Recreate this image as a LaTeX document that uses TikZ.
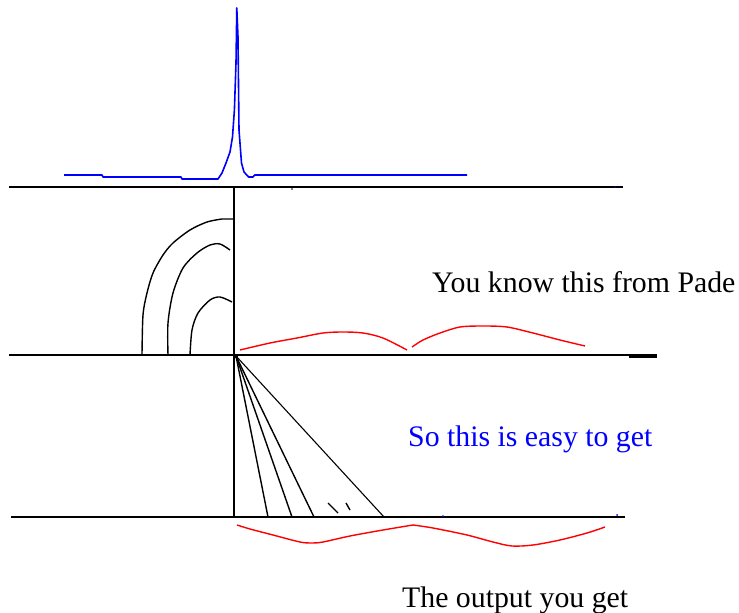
\documentclass[tikz,border=0pt]{standalone}
\usepackage{fontspec}
\setmainfont{Liberation Serif}
\begin{document}
\begin{tikzpicture}[x=1pt,y=-1pt,
  axis/.style={black,line width=1.6pt},
  blk/.style={black,line width=1.4pt,line join=round},
  redc/.style={red,line width=1.4pt,line join=round},
  bluec/.style={blue,line width=1.6pt,line join=round},
  lbl/.style={anchor=base west,inner sep=0pt,font=\fontsize{29.8}{34}\selectfont}]
\useasboundingbox (0,0) rectangle (739,613);
% axes
\draw[axis] (9,187) -- (623,187);
\draw[axis] (9,355) -- (657,355);
\draw[black,line width=3pt] (629,356) -- (657,356);
\draw[axis] (11,517) -- (625,517);
\draw[axis] (234,187) -- (234,517);
% small marks
\fill[black] (292,189) circle (0.9);
\fill[blue] (615,187) circle (0.8);
\fill[blue] (443,516) circle (1);
\fill[blue] (617,515) circle (1);
% blue peak
\draw[bluec] (64,175) -- (102,175) -- (103,177) -- (181,177) -- (182,179) -- (218,179)
  -- (222,173) -- (226,163) -- (230,152) -- (232.5,137) -- (234.4,110) -- (236,63) -- (236.8,8)
  -- (238,37) -- (239,130) -- (241.5,163) -- (244,172) -- (248.6,177) -- (253,177) -- (254.7,175) -- (467,175);
% arcs
\draw[blk] plot[smooth] coordinates {(142,355) (143,315) (147,293) (153,273) (163,255) (173,243) (190,230) (207,222) (222,219)} -- (234,219);
\draw[blk] plot[smooth] coordinates {(168,355) (168,323) (173,293) (183,268) (197,253) (210,245) (220,244) (230,250)};
\draw[blk] plot[smooth] coordinates {(190,355) (192,330) (198,313) (210,300) (220,297) (232,302)};
% upper red
\draw[redc] plot[smooth] coordinates {(240,350) (270,343) (297,338) (323,333) (343,332) (363,333) (383,338) (407,350)};
\draw[redc] plot[smooth] coordinates {(412,347) (423,340) (440,333) (460,327) (483,326) (507,327) (533,333) (560,340) (585,346)};
% fan
\coordinate (apex) at (236,356);
\fill[black] (apex) circle (2.2);
\draw[blk] (apex) -- (268,517);
\draw[blk] (apex) -- (292,517);
\draw[blk] (apex) -- (314,517);
\draw[blk,line width=1.1pt] (apex) -- (384,517);
\draw[blk] (328,503) -- (338,513);
\draw[blk] (346,503) -- (350,510);
% lower red
\draw[redc] plot[smooth] coordinates {(237,525) (250,529) (273,535) (300,542) (312,543) (323,542) (350,536) (383,530) (413,525)};
\draw[redc] plot[smooth] coordinates {(413,525) (433,528) (467,535) (493,542) (512,546) (533,545) (560,540) (587,533) (605,527)};
% texts
\node[lbl] (pade) at (432,292) {You know this from Pade};
\node[lbl,text=blue] (easy) at (408,446) {So this is easy to get};
\node[lbl] (out) at (402,607) {The output you get};
\end{tikzpicture}
\end{document}
